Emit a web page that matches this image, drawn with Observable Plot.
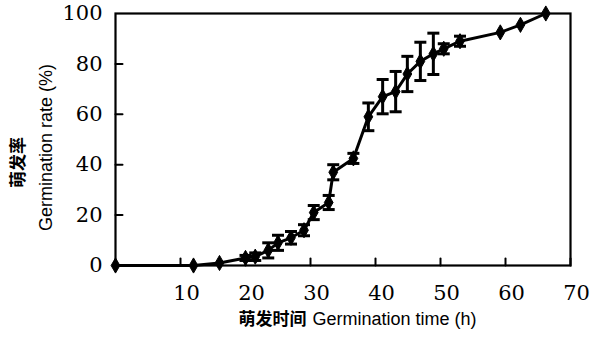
<!DOCTYPE html>
<html>
<head>
<meta charset="utf-8">
<script src="https://cdn.jsdelivr.net/npm/d3@7"></script>
<script src="https://cdn.jsdelivr.net/npm/@observablehq/plot@0.6"></script>
<style>
  html, body { margin: 0; padding: 0; background: #fff; }
</style>
</head>
<body>
<div id="chart"></div>
<script>
// Germination time (h)
const time = [0, 12, 16, 20, 21.5, 23.5, 25, 27, 29, 30.5, 32.8, 33.5, 36.6, 38.9, 41.1, 43.1, 44.9, 46.9, 48.9, 50.5, 53, 59.2, 62.3, 66.2];
// Germination rate (%)
const rate = [0, 0, 1, 3, 3.5, 6, 9, 11, 14, 21, 25, 37, 42.5, 59, 67, 69, 76, 81, 84, 86, 89, 92.5, 95.5, 100];
// Error (±, %)
const err  = [0, 0, 0, 1, 1.5, 3, 3, 2.5, 2.2, 2.8, 2.8, 3, 2, 5.5, 6.8, 8, 7, 7.6, 8.2, 2, 2, 0, 0, 0];

const xTicks = [10, 20, 30, 40, 50, 60, 70];
const yTicks = [0, 20, 40, 60, 80, 100];

const data = time.map((t, i) => ({t, r: rate[i], e: err[i]}));
const bars = data.filter(d => d.e > 0);

const serif = "DejaVu Serif";

const capSymbol = {
  draw(context, size) {
    const w = 6;
    context.moveTo(-w, 0);
    context.lineTo(w, 0);
  }
};
const tickUp = {
  draw(context, l) { context.moveTo(0, 0); context.lineTo(0, -l); }
};

const chart = Plot.plot({
  width: 597,
  height: 343,
  marginLeft: 115,
  marginRight: 27,
  marginTop: 13,
  marginBottom: 78,
  style: {background: "#fff", color: "#000"},
  x: {domain: [0, 70], axis: null},
  y: {domain: [0, 100], axis: null},
  marks: [
    Plot.frame({stroke: "#000", strokeWidth: 2.2}),
    // tick labels
    Plot.text(xTicks, {x: d => d, y: 0, text: d => String(d), dx: 6, dy: 28, fontSize: 21, fontFamily: serif, fill: "#000"}),
    Plot.text(yTicks, {x: 0, y: d => d, text: d => String(d), dx: -13, textAnchor: "end", fontSize: 21, fontFamily: serif, fill: "#000"}),
    // inward ticks
    Plot.vector(xTicks, {x: d => d, y: 0, length: 7, rotate: 0, anchor: "start", shape: tickUp, stroke: "#000", strokeWidth: 2}),
    Plot.vector(yTicks.slice(1, -1), {x: 0, y: d => d, length: 7, rotate: 90, anchor: "start", shape: tickUp, stroke: "#000", strokeWidth: 2}),
    // error bars
    Plot.ruleX(bars, {x: "t", y1: d => d.r - d.e, y2: d => d.r + d.e, stroke: "#000", strokeWidth: 3}),
    Plot.dot(bars, {x: "t", y: d => d.r + d.e, symbol: capSymbol, stroke: "#000", strokeWidth: 3}),
    Plot.dot(bars, {x: "t", y: d => d.r - d.e, symbol: capSymbol, stroke: "#000", strokeWidth: 3}),
    // line + markers
    Plot.line(data, {x: "t", y: "r", stroke: "#000", strokeWidth: 3}),
    Plot.dot(data, {x: "t", y: "r", symbol: "diamond", r: 4.6, fill: "#000", stroke: "#000", strokeWidth: 1}),
    // axis titles
    Plot.text([0], {frameAnchor: "bottom-left", text: () => "萌发时间", textAnchor: "start", dx: 123, dy: 59, fontSize: 17, fontWeight: "bold", fontFamily: "Noto Sans CJK SC"}),
    Plot.text([0], {frameAnchor: "bottom-left", text: () => "Germination time (h)", textAnchor: "start", dx: 197, dy: 59, fontSize: 18, fontFamily: "Liberation Sans"}),
    Plot.text([0], {frameAnchor: "left", text: () => "萌发率", rotate: -90, textAnchor: "middle", dx: -97, dy: 23, fontSize: 17, fontWeight: "bold", fontFamily: "Noto Sans CJK SC"}),
    Plot.text([0], {frameAnchor: "left", text: () => "Germination rate (%)", rotate: -90, textAnchor: "middle", dx: -69, dy: 8, fontSize: 18, fontFamily: "Liberation Sans"})
  ]
});
document.getElementById("chart").append(chart);
</script>
</body>
</html>
